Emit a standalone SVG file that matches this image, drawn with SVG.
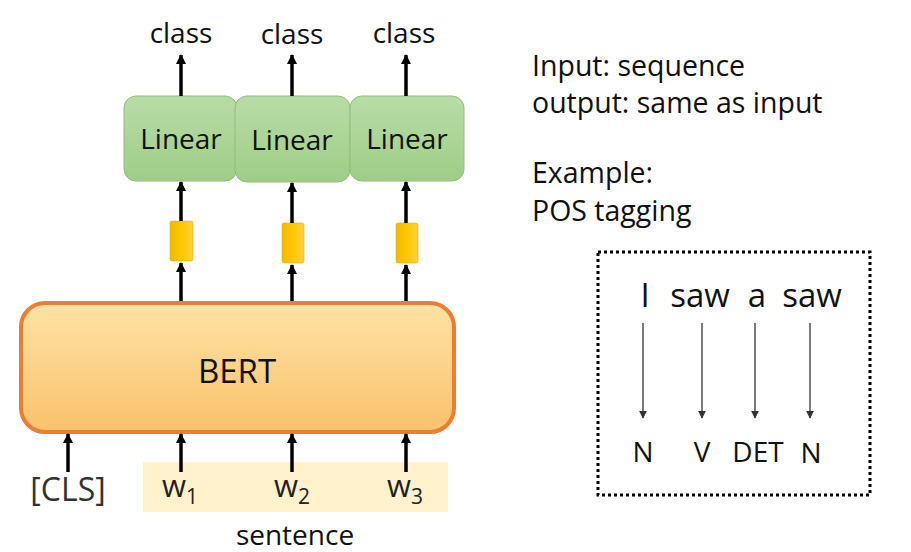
<svg xmlns="http://www.w3.org/2000/svg" width="911" height="552" viewBox="0 0 911 552">
<defs>
<linearGradient id="gLin" x1="0" y1="0" x2="0" y2="1"><stop offset="0" stop-color="#b9dca6"/><stop offset="1" stop-color="#9fcd88"/></linearGradient>
<linearGradient id="gBert" x1="0" y1="0" x2="0" y2="1"><stop offset="0" stop-color="#fde3a6"/><stop offset="1" stop-color="#fac26c"/></linearGradient>
<linearGradient id="gY" x1="0" y1="0" x2="1" y2="0"><stop offset="0" stop-color="#f2b800"/><stop offset="0.5" stop-color="#ffc800"/><stop offset="1" stop-color="#fdd040"/></linearGradient>
<marker id="ah" viewBox="0 0 10 10" refX="9" refY="5" markerWidth="10" markerHeight="10" markerUnits="userSpaceOnUse" orient="auto"><path d="M0,0 L10,5 L0,10 z" fill="#000"/></marker>
<marker id="ahs" viewBox="0 0 10 10" refX="9" refY="5" markerWidth="8" markerHeight="8" markerUnits="userSpaceOnUse" orient="auto"><path d="M0,0 L10,5 L0,10 z" fill="#333"/></marker>
</defs>
<style>
text{font-family:"Open Sans","Noto Sans","Liberation Sans",sans-serif;fill:#111}
.lin{fill:url(#gLin);stroke:#8fbf7a;stroke-width:1}
.y{fill:url(#gY);stroke:#e0a800;stroke-width:0.5}
.ar{stroke:#000;stroke-width:3.5;fill:none;marker-end:url(#ah)}
.thin{stroke:#333;stroke-width:1.3;fill:none;marker-end:url(#ahs)}
.t28{font-size:28px}
.tr{font-size:28.5px}
.w{font-size:31px;fill:#222}
.sub{font-size:21px}
.pos{font-size:33px}
</style>
<rect x="0" y="0" width="911" height="552" fill="#fff"/>
<g id="sentence-bg"><rect x="143" y="462" width="305" height="50" fill="#fff2cc"/></g>
<g id="linear1"><rect class="lin" x="124" y="96" width="113" height="85" rx="12"/><text x="181" y="149" text-anchor="middle" class="t28">Linear</text></g>
<g id="linear2"><rect class="lin" x="235" y="96" width="115" height="86" rx="12"/><text x="292" y="150" text-anchor="middle" class="t28">Linear</text></g>
<g id="linear3"><rect class="lin" x="350" y="96" width="114" height="85" rx="12"/><text x="407" y="149" text-anchor="middle" class="t28">Linear</text></g>
<g id="vec1"><rect class="y" x="170" y="221" width="23" height="40" rx="2"/></g>
<g id="vec2"><rect class="y" x="282" y="223" width="22" height="40" rx="2"/></g>
<g id="vec3"><rect class="y" x="396" y="223" width="22" height="40" rx="2"/></g>
<g id="bert"><rect x="21" y="303" width="433" height="129" rx="24" fill="url(#gBert)" stroke="#ed7d31" stroke-width="4"/><text x="237" y="383" text-anchor="middle" style="font-size:33px">BERT</text></g>
<g id="connectors">
<line class="ar" x1="181" y1="96" x2="181" y2="55"/>
<line class="ar" x1="292" y1="96" x2="292" y2="55"/>
<line class="ar" x1="406" y1="96" x2="406" y2="55"/>
<line class="ar" x1="181" y1="221" x2="181" y2="182"/>
<line class="ar" x1="292" y1="223" x2="292" y2="183"/>
<line class="ar" x1="406" y1="223" x2="406" y2="182"/>
<line class="ar" x1="181" y1="301" x2="181" y2="263"/>
<line class="ar" x1="292" y1="301" x2="292" y2="265"/>
<line class="ar" x1="406" y1="301" x2="406" y2="265"/>
<line class="ar" x1="68" y1="472" x2="68" y2="434"/>
<line class="ar" x1="181" y1="472" x2="181" y2="434"/>
<line class="ar" x1="292" y1="472" x2="292" y2="434"/>
<line class="ar" x1="406" y1="472" x2="406" y2="434"/>
<line class="thin" x1="643" y1="323" x2="643" y2="418"/>
<line class="thin" x1="702" y1="323" x2="702" y2="418"/>
<line class="thin" x1="755" y1="323" x2="755" y2="418"/>
<line class="thin" x1="810" y1="323" x2="810" y2="418"/>
</g>
<g id="outputs">
<text x="181" y="43" text-anchor="middle" class="t28">class</text>
<text x="292" y="44" text-anchor="middle" class="t28">class</text>
<text x="404" y="43" text-anchor="middle" class="t28">class</text>
</g>
<g id="inputs">
<text x="68" y="501" text-anchor="middle" style="font-size:32px;fill:#333">[CLS]</text>
<text x="180" y="497" text-anchor="middle" class="w">w<tspan dy="7" class="sub">1</tspan></text>
<text x="292" y="497" text-anchor="middle" class="w">w<tspan dy="7" class="sub">2</tspan></text>
<text x="405" y="497" text-anchor="middle" class="w">w<tspan dy="7" class="sub">3</tspan></text>
<text x="295" y="545" text-anchor="middle" class="t28">sentence</text>
</g>
<g id="desc">
<text x="532" y="76" class="tr">Input: sequence</text>
<text x="532" y="113" class="tr">output: same as input</text>
<text x="532" y="183" class="tr">Example:</text>
<text x="532" y="221" class="tr">POS tagging</text>
</g>
<g id="pos-box">
<rect x="598" y="252" width="272" height="243" fill="none" stroke="#000" stroke-width="3" stroke-dasharray="3 3"/>
<text x="645" y="307" text-anchor="middle" class="pos">I</text>
<text x="700" y="307" text-anchor="middle" class="pos">saw</text>
<text x="757" y="307" text-anchor="middle" class="pos">a</text>
<text x="812" y="307" text-anchor="middle" class="pos">saw</text>
<text x="643" y="462" text-anchor="middle" class="t28">N</text>
<text x="702" y="462" text-anchor="middle" class="t28">V</text>
<text x="758" y="462" text-anchor="middle" class="t28">DET</text>
<text x="811" y="463" text-anchor="middle" class="t28">N</text>
</g>
</svg>
